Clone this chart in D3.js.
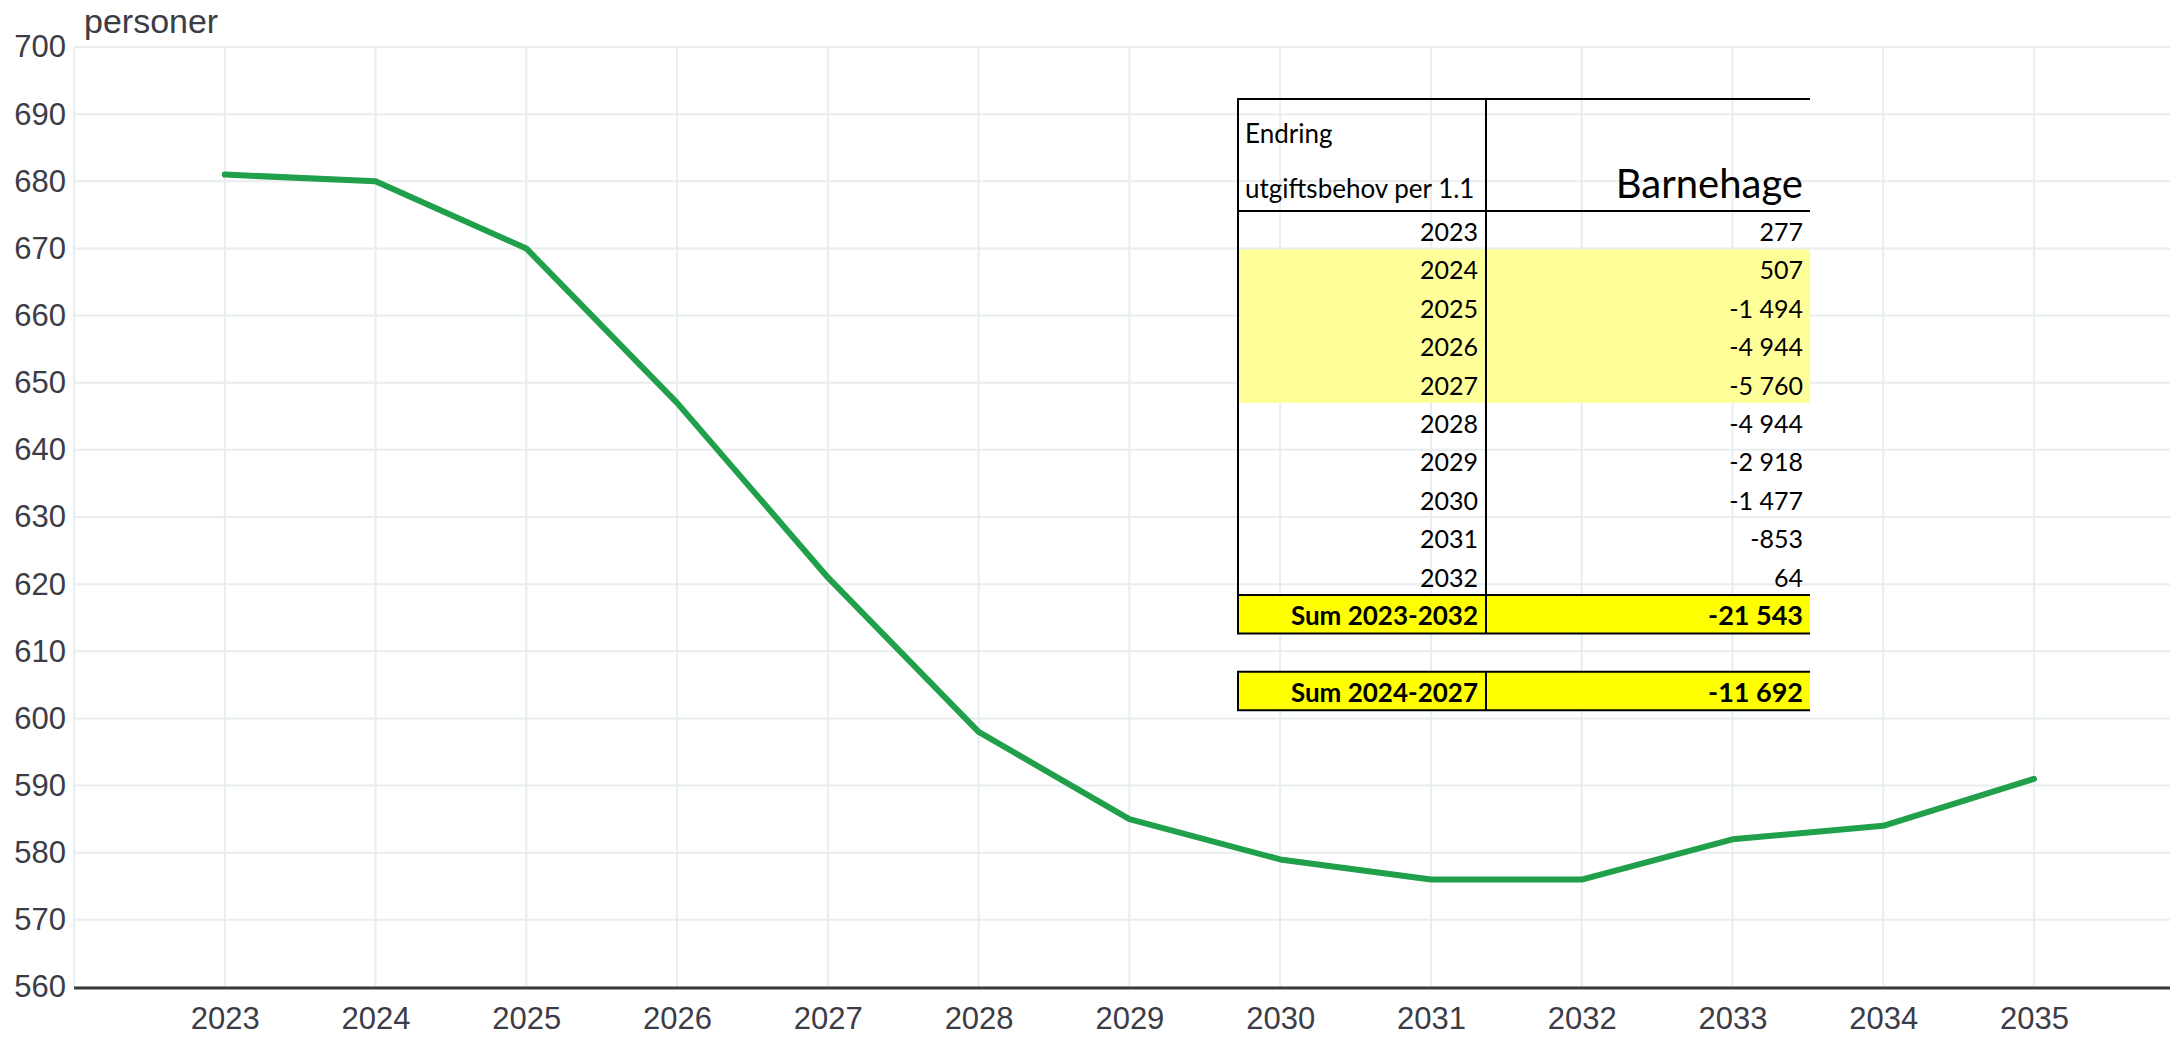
<!DOCTYPE html>
<html>
<head>
<meta charset="utf-8">
<script src="https://cdn.jsdelivr.net/npm/d3@7"></script>
<style>
  body { margin: 0; background: #fff; }
  svg { display: block; }
</style>
</head>
<body>
<div id="chart"></div>
<script>
// Chart data
const years = [2023, 2024, 2025, 2026, 2027, 2028, 2029, 2030, 2031, 2032, 2033, 2034, 2035];
const persons = [681, 680, 670, 647, 621, 598, 585, 579, 576, 576, 582, 584, 591];
const yTicks = [560, 570, 580, 590, 600, 610, 620, 630, 640, 650, 660, 670, 680, 690, 700];

// Table data
const tableYears = [2023, 2024, 2025, 2026, 2027, 2028, 2029, 2030, 2031, 2032];
const tableValues = [277, 507, -1494, -4944, -5760, -4944, -2918, -1477, -853, 64];
const highlightYears = [2024, 2025, 2026, 2027];
const sumLabels = ["Sum 2023-2032", "Sum 2024-2027"];
const sumValues = [-21543, -11692];

const W = 2170, H = 1038;
const plot = { left: 74, right: W, top: 47, bottom: 987 };
const axisFont = "'Liberation Sans', Arial, sans-serif";

const svg = d3.select("#chart").append("svg")
    .attr("width", W)
    .attr("height", H);

const x = d3.scaleLinear()
    .domain([2022, 2035])
    .range([plot.left, 2034]);

const y = d3.scaleLinear()
    .domain([560, 700])
    .range([plot.bottom, plot.top]);

// Grid
const grid = svg.append("g");
grid.selectAll(".hgrid")
    .data(yTicks)
    .enter().append("line")
    .attr("x1", plot.left).attr("x2", plot.right)
    .attr("y1", d => y(d)).attr("y2", d => y(d))
    .attr("stroke", "#e8edef")
    .attr("stroke-width", 2);

grid.selectAll(".vgrid")
    .data([2022].concat(years))
    .enter().append("line")
    .attr("x1", d => x(d)).attr("x2", d => x(d))
    .attr("y1", plot.top).attr("y2", plot.bottom)
    .attr("stroke", "#e8edef")
    .attr("stroke-width", 2);

// Y axis labels
const yAxis = svg.append("g")
    .attr("transform", `translate(${plot.left},0)`)
    .call(d3.axisLeft(y).tickValues(yTicks).tickSize(0).tickPadding(8));
yAxis.select(".domain").remove();
yAxis.selectAll("text")
    .style("font-family", axisFont)
    .style("font-size", "31px")
    .attr("fill", "#3c3c46");

// X axis
const xAxis = svg.append("g")
    .attr("transform", `translate(0,${plot.bottom})`)
    .call(d3.axisBottom(x).tickValues(years).tickFormat(d3.format("d")).tickSize(0).tickPadding(20));
xAxis.select(".domain").remove();
xAxis.selectAll("text")
    .style("font-family", axisFont)
    .style("font-size", "31px")
    .attr("fill", "#3c3c46");

svg.append("line")
    .attr("x1", plot.left).attr("x2", plot.right)
    .attr("y1", plot.bottom + 1).attr("y2", plot.bottom + 1)
    .attr("stroke", "#3a3a3a")
    .attr("stroke-width", 3);

// Unit label
svg.append("text")
    .attr("x", 84)
    .attr("y", 33)
    .style("font-family", axisFont)
    .style("font-size", "34px")
    .attr("fill", "#3c3c46")
    .text("personer");

// Line
const line = d3.line()
    .x((d, i) => x(years[i]))
    .y(d => y(d));

svg.append("path")
    .datum(persons)
    .attr("d", line)
    .attr("fill", "none")
    .attr("stroke", "#20a04a")
    .attr("stroke-width", 6)
    .attr("stroke-linejoin", "round")
    .attr("stroke-linecap", "round");

// Table overlay
const fmt = d3.formatLocale({ decimal: ",", thousands: " ", grouping: [3], currency: ["", ""], minus: "-" }).format(",d");
const tLeft = 1238, tMid = 1486, tRight = 1810;
const row = d3.scaleLinear().domain([0, 1]).range([211, 249.4]);
const tbl = svg.append("g")
    .style("font-family", "Lato, 'Open Sans', sans-serif")
    .attr("fill", "#000");

// highlighted rows
const hiIdx = highlightYears.map(d => tableYears.indexOf(d));
tbl.append("rect")
    .attr("x", tLeft).attr("width", tRight - tLeft)
    .attr("y", row(d3.min(hiIdx))).attr("height", row(d3.max(hiIdx) + 1) - row(d3.min(hiIdx)))
    .attr("fill", "#ffff99");

// sum rows
const sumRows = [10, 12];
tbl.selectAll(".sumbg")
    .data(sumRows)
    .enter().append("rect")
    .attr("x", tLeft).attr("width", tRight - tLeft)
    .attr("y", d => row(d)).attr("height", row(1) - row(0))
    .attr("fill", "#ffff00");

// header text
tbl.append("text").attr("x", 1245).attr("y", 143)
    .style("font-size", "26px").text("Endring");
tbl.append("text").attr("x", 1245).attr("y", 198)
    .style("font-size", "26px").text("utgiftsbehov per 1.1");
tbl.append("text").attr("x", 1803).attr("y", 198)
    .attr("text-anchor", "end")
    .style("font-size", "40px").text("Barnehage");

// body rows
tbl.selectAll(".yr")
    .data(tableYears)
    .enter().append("text")
    .attr("x", 1478).attr("y", (d, i) => row(i) + 30)
    .attr("text-anchor", "end")
    .style("font-size", "25px")
    .text(d => d);

tbl.selectAll(".val")
    .data(tableValues)
    .enter().append("text")
    .attr("x", 1803).attr("y", (d, i) => row(i) + 30)
    .attr("text-anchor", "end")
    .style("font-size", "25px")
    .text(d => fmt(d));

tbl.selectAll(".slab")
    .data(sumLabels)
    .enter().append("text")
    .attr("x", 1478).attr("y", (d, i) => row(sumRows[i]) + 30)
    .attr("text-anchor", "end")
    .style("font-size", "26px")
    .style("font-weight", "bold")
    .text(d => d);

tbl.selectAll(".sval")
    .data(sumValues)
    .enter().append("text")
    .attr("x", 1803).attr("y", (d, i) => row(sumRows[i]) + 30)
    .attr("text-anchor", "end")
    .style("font-size", "27px")
    .style("font-weight", "bold")
    .text(d => fmt(d));

// table borders
const hLines = [99, row(0), row(10), row(11), row(12), row(13)];
tbl.selectAll(".hl")
    .data(hLines)
    .enter().append("line")
    .attr("x1", tLeft - 1).attr("x2", tRight)
    .attr("y1", d => d).attr("y2", d => d)
    .attr("stroke", "#000").attr("stroke-width", 2);

const vSegs = [[99, row(11)], [row(12), row(13)]];
[tLeft, tMid].forEach(vx => {
    vSegs.forEach(s => {
        tbl.append("line")
            .attr("x1", vx).attr("x2", vx)
            .attr("y1", s[0]).attr("y2", s[1])
            .attr("stroke", "#000").attr("stroke-width", 2);
    });
});
</script>
</body>
</html>
